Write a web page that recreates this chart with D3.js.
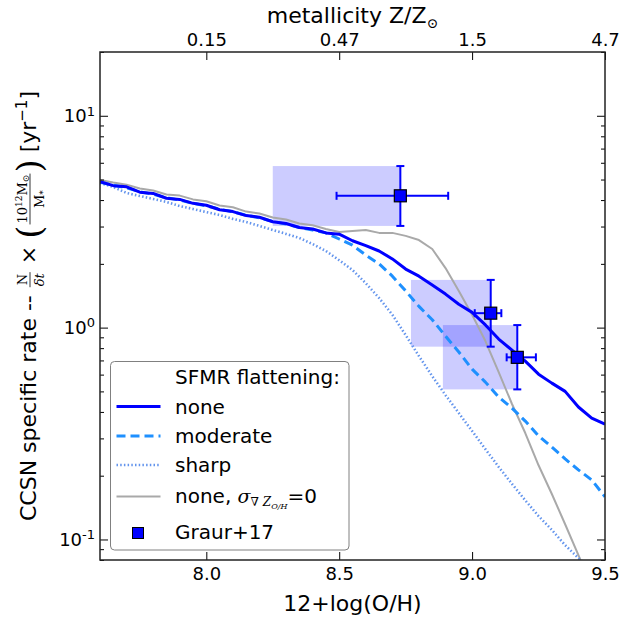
<!DOCTYPE html>
<html>
<head>
<meta charset="utf-8">
<script src="https://cdn.jsdelivr.net/npm/d3@7"></script>
<style>
  body { margin: 0; background: #fff; }
  text { font-family: "DejaVu Sans", sans-serif; fill: #000; white-space: pre; }
</style>
</head>
<body>
<div id="container"></div>
<script>
// 12+log(O/H) grid shared by the model curves
var oh = [7.60, 7.65, 7.70, 7.75, 7.80, 7.85, 7.90, 7.95, 8.00, 8.05, 8.10, 8.15, 8.20,
          8.25, 8.30, 8.35, 8.40, 8.45, 8.50, 8.55, 8.60, 8.65, 8.70, 8.75, 8.80, 8.85,
          8.90, 8.95, 9.00, 9.05, 9.10, 9.15, 9.20, 9.25, 9.30, 9.35, 9.40, 9.45, 9.50];

var rateNone = [4.89, 4.68, 4.62, 4.36, 4.30, 4.08, 4.03, 3.86, 3.78, 3.60, 3.53, 3.38, 3.32,
                3.16, 3.10, 2.97, 2.92, 2.80, 2.76, 2.57, 2.44, 2.30, 2.11, 1.89, 1.75, 1.59,
                1.44, 1.29, 1.18, 1.03, 0.883, 0.783, 0.695, 0.603, 0.547, 0.500, 0.422, 0.374, 0.350];
var rateModerate = [4.86, 4.70, 4.57, 4.38, 4.26, 4.10, 4.00, 3.86, 3.76, 3.62, 3.52, 3.39, 3.30,
                    3.17, 3.08, 2.97, 2.89, 2.80, 2.62, 2.45, 2.20, 2.00, 1.75, 1.49, 1.26, 1.09,
                    0.912, 0.767, 0.637, 0.553, 0.470, 0.417, 0.362, 0.308, 0.273, 0.240, 0.213, 0.191, 0.159];
var rateSharp = [4.82, 4.61, 4.32, 4.18, 4.05, 3.92, 3.75, 3.63, 3.51, 3.40, 3.26, 3.15, 3.02,
                 2.89, 2.77, 2.65, 2.48, 2.30, 2.08, 1.87, 1.62, 1.38, 1.15, 0.922, 0.734, 0.590,
                 0.480, 0.395, 0.325, 0.267, 0.220, 0.183, 0.153, 0.129, 0.111, 0.094, 0.0817, 0.072];
var rateNoScatter = [4.97, 4.84, 4.73, 4.54, 4.44, 4.25, 4.20, 4.03, 3.95, 3.77, 3.70, 3.53, 3.46,
                     3.31, 3.24, 3.10, 3.04, 2.92, 2.83, 2.86, 2.89, 2.80, 2.80, 2.71, 2.59, 2.35,
                     1.91, 1.49, 1.15, 0.864, 0.617, 0.436, 0.318, 0.224, 0.164, 0.118, 0.0844, 0.060];

// Graur+17 measurements
var graurOH = [8.73, 9.07, 9.17];
var graurOHLow = [8.49, 9.01, 9.13];
var graurOHHigh = [8.91, 9.11, 9.24];
var graurBoxLeft = [8.25, 8.77, 8.89];
var graurRate = [4.19, 1.17, 0.724];
var graurRateLow = [3.02, 0.813, 0.511];
var graurRateHigh = [5.79, 1.68, 1.028];

var xTicks = [8.0, 8.5, 9.0, 9.5];
var topTickLabels = ["0.15", "0.47", "1.5", "4.7"];
var yMajor = [0.1, 1, 10];
var yMinor = [0.08, 0.09, 0.2, 0.3, 0.4, 0.5, 0.6, 0.7, 0.8, 0.9, 2, 3, 4, 5, 6, 7, 8, 9, 20];

var legendNames = ["none", "moderate", "sharp"];

var margin = {top: 52, right: 15, bottom: 57, left: 100},
    width = 620 - margin.left - margin.right,
    height = 617 - margin.top - margin.bottom;

var sans = '"DejaVu Sans", sans-serif',
    serif = '"DejaVu Serif", serif';

var x = d3.scaleLinear().domain([7.6, 9.5]).range([0, width]);
var y = d3.scaleLog().domain([0.08, 20]).range([height, 0]);

var root = d3.select("#container").append("svg")
    .attr("width", 620)
    .attr("height", 617);

var svg = root.append("g")
    .attr("transform", "translate(" + margin.left + "," + margin.top + ")");

svg.append("clipPath").attr("id", "plotclip")
  .append("rect").attr("width", width).attr("height", height);

var plot = svg.append("g").attr("clip-path", "url(#plotclip)");

// Graur boxes
plot.selectAll("rect.box")
    .data(graurOH)
  .enter().append("rect")
    .attr("class", "box")
    .attr("x", function(d, i) { return x(graurBoxLeft[i]); })
    .attr("width", function(d, i) { return x(d) - x(graurBoxLeft[i]); })
    .attr("y", function(d, i) { return y(graurRateHigh[i]); })
    .attr("height", function(d, i) { return y(graurRateLow[i]) - y(graurRateHigh[i]); })
    .attr("fill", "rgba(0,0,255,0.2)");

var line = d3.line()
    .x(function(d) { return x(d[0]); })
    .y(function(d) { return y(d[1]); });

function pairs(vals) { return vals.map(function(v, i) { return [oh[i], v]; }); }

var series = [
  {vals: rateNoScatter, color: "#a9a9a9", w: 2, dash: null},
  {vals: rateSharp, color: "#6495ed", w: 2.6, dash: "1.5,2.2"},
  {vals: rateModerate, color: "#1e90ff", w: 3, dash: "9,5"},
  {vals: rateNone, color: "#0000ff", w: 3, dash: null}
];

series.forEach(function(s) {
  plot.append("path")
      .datum(pairs(s.vals))
      .attr("d", line)
      .attr("fill", "none")
      .attr("stroke", s.color)
      .attr("stroke-width", s.w)
      .attr("stroke-dasharray", s.dash)
      .attr("stroke-linejoin", "round");
});

// error bars
var eb = plot.append("g").attr("stroke", "#0000ff").attr("stroke-width", 2);
graurOH.forEach(function(d, i) {
  var cx = x(d), cy = y(graurRate[i]);
  eb.append("line").attr("x1", cx).attr("x2", cx).attr("y1", y(graurRateHigh[i])).attr("y2", y(graurRateLow[i]));
  eb.append("line").attr("x1", x(graurOHLow[i])).attr("x2", x(graurOHHigh[i])).attr("y1", cy).attr("y2", cy);
  [graurRateHigh[i], graurRateLow[i]].forEach(function(v) {
    eb.append("line").attr("x1", cx - 4).attr("x2", cx + 4).attr("y1", y(v)).attr("y2", y(v));
  });
  [graurOHLow[i], graurOHHigh[i]].forEach(function(v) {
    eb.append("line").attr("x1", x(v)).attr("x2", x(v)).attr("y1", cy - 4).attr("y2", cy + 4);
  });
});

plot.selectAll("rect.pt")
    .data(graurOH)
  .enter().append("rect")
    .attr("class", "pt")
    .attr("x", function(d) { return x(d) - 6; })
    .attr("y", function(d, i) { return y(graurRate[i]) - 6; })
    .attr("width", 12).attr("height", 12)
    .attr("fill", "#0000ff")
    .attr("stroke", "#000")
    .attr("stroke-width", 1.2);

// axes, ticks pointing inward
var gx = svg.append("g")
    .attr("transform", "translate(0," + height + ")")
    .call(d3.axisBottom(x).tickValues(xTicks).tickFormat(d3.format(".1f"))
          .tickSizeInner(-8).tickSizeOuter(0).tickPadding(7));

var gxTop = svg.append("g")
    .call(d3.axisTop(x).tickValues(xTicks).tickFormat(function(d, i) { return topTickLabels[i]; })
          .tickSizeInner(-8).tickSizeOuter(0).tickPadding(6));

var gy = svg.append("g")
    .call(d3.axisLeft(y).tickValues(yMajor).tickFormat("")
          .tickSizeInner(-8).tickSizeOuter(0).tickPadding(5));

svg.append("g")
    .call(d3.axisLeft(y).tickValues(yMinor).tickFormat("")
          .tickSizeInner(-4).tickSizeOuter(0));
svg.append("g")
    .attr("transform", "translate(" + width + ",0)")
    .call(d3.axisRight(y).tickValues(yMajor).tickFormat("")
          .tickSizeInner(-8).tickSizeOuter(0));
svg.append("g")
    .attr("transform", "translate(" + width + ",0)")
    .call(d3.axisRight(y).tickValues(yMinor).tickFormat("")
          .tickSizeInner(-4).tickSizeOuter(0));

svg.selectAll(".domain").remove();
svg.selectAll(".tick line").attr("stroke", "#000").attr("stroke-width", 1);
svg.selectAll(".tick text").style("font-size", "18px").style("font-family", sans);

gy.selectAll(".tick text").each(function(d) {
  var t = d3.select(this);
  t.append("tspan").text("10");
  t.append("tspan").attr("dy", "-0.5em").style("font-size", "13px")
    .text(String(Math.round(Math.log10(d))));
});

svg.append("rect")
    .attr("width", width).attr("height", height)
    .attr("fill", "none").attr("stroke", "#222").attr("stroke-width", 1.5);

// axis titles
svg.append("text")
    .attr("x", width / 2).attr("y", height + 51)
    .attr("text-anchor", "middle")
    .style("font-size", "22px")
    .text("12+log(O/H)");

var topTitle = svg.append("text")
    .attr("x", width / 2).attr("y", -29)
    .attr("text-anchor", "middle")
    .style("font-size", "22px");
topTitle.append("tspan").text("metallicity Z/Z");
topTitle.append("tspan").attr("dy", 5).style("font-size", "14px").style("font-family", serif).text("\u2299");

// rich text helper: parts [{t, size, family, italic, shift}]
function rich(parent, px, py, parts) {
  var t = parent.append("text").attr("x", px).attr("y", py);
  var cur = 0;
  parts.forEach(function(p) {
    var sh = p.shift || 0;
    t.append("tspan")
      .attr("dy", sh - cur)
      .style("font-size", p.size + "px")
      .style("font-family", p.family || sans)
      .style("font-style", p.italic ? "italic" : null)
      .text(p.t);
    cur = sh;
  });
  return t;
}
function textWidth(t) { return t.node().getComputedTextLength(); }

// y label, built left-to-right then rotated
var yl = root.append("g").attr("transform", "translate(36," + (margin.top + height / 2) + ") rotate(-90)");
var yli = yl.append("g");
var cur = 0;
function piece(parts, yy) {
  var t = rich(yli, cur, yy || 0, parts);
  cur += textWidth(t);
  return t;
}
function frac(num, den) {
  var a = rich(yli, 0, -9, num), b = rich(yli, 0, 8, den);
  var w = Math.max(textWidth(a), textWidth(b)) + 4;
  a.attr("x", cur + (w - textWidth(a)) / 2);
  b.attr("x", cur + (w - textWidth(b)) / 2);
  yli.append("line").attr("x1", cur + 1).attr("x2", cur + w - 1)
    .attr("y1", -6).attr("y2", -6).attr("stroke", "#000").attr("stroke-width", 0.8);
  cur += w;
}
piece([{t: "CCSN specific rate -- ", size: 22}]);
frac([{t: "N", size: 13, family: serif}],
     [{t: "\u03b4t", size: 13, family: serif, italic: true}]);
piece([{t: " \u00d7 ", size: 22}]);
piece([{t: "(", size: 34, family: serif}], 5);
frac([{t: "10", size: 13, family: serif}, {t: "12", size: 9, family: serif, shift: -5},
      {t: "M", size: 13, family: serif}, {t: "\u2299", size: 9, family: serif, shift: 2}],
     [{t: "M", size: 13, family: serif}, {t: "*", size: 9, family: serif, shift: 2}]);
piece([{t: ")", size: 34, family: serif}], 5);
piece([{t: " [yr", size: 22}, {t: "\u22121", size: 15, shift: -9}, {t: "]", size: 22}]);
yli.attr("transform", "translate(" + (-cur / 2) + ",0)");

// legend
var lg = svg.append("g").attr("transform", "translate(" + (110.5 - margin.left) + "," + (361.5 - margin.top) + ")");
lg.append("rect")
    .attr("width", 238.5).attr("height", 188.5).attr("rx", 4)
    .attr("fill", "#fff").attr("stroke", "#808080").attr("stroke-width", 1);
lg.append("text").attr("x", 64.5).attr("y", 22.5).style("font-size", "20px").text("SFMR flattening:");

var rowY = [45, 74.5, 103.5, 135];
series.slice().reverse().forEach(function(s, i) {
  lg.append("line")
    .attr("x1", 6).attr("x2", 50).attr("y1", rowY[i]).attr("y2", rowY[i])
    .attr("stroke", s.color).attr("stroke-width", s.w).attr("stroke-dasharray", s.dash);
  if (i < 3) {
    lg.append("text").attr("x", 64.5).attr("y", rowY[i] + 7).style("font-size", "20px").text(legendNames[i]);
  }
});
rich(lg, 64.5, rowY[3] + 6, [
  {t: "none, ", size: 20},
  {t: "\u03c3", size: 19, family: serif, italic: true},
  {t: "\u2207 ", size: 12, family: serif, shift: 3},
  {t: "Z", size: 12, family: serif, italic: true, shift: 3},
  {t: "O/H", size: 8, family: serif, italic: true, shift: 6},
  {t: "=0", size: 20}
]);
lg.append("rect").attr("x", 22).attr("y", 166).attr("width", 11).attr("height", 11)
  .attr("fill", "#0000ff").attr("stroke", "#000").attr("stroke-width", 1);
lg.append("text").attr("x", 64.5).attr("y", 177).style("font-size", "20px").text("Graur+17");
</script>
</body>
</html>
